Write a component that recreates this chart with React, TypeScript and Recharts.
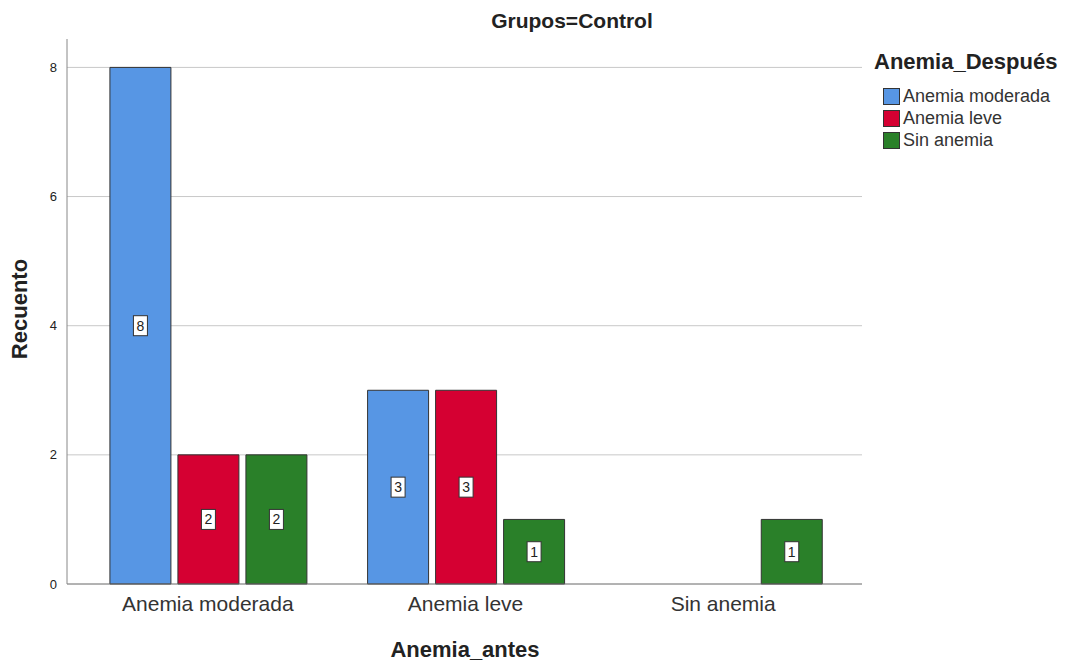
import { BarChart, Bar, XAxis, YAxis, CartesianGrid, LabelList } from 'recharts';

const categories = ['Anemia moderada', 'Anemia leve', 'Sin anemia'];
const moderada = [8, 3, 0];
const leve = [2, 3, 0];
const sinAnemia = [2, 1, 1];
const yTicks = [0, 2, 4, 6, 8];
const gridValues = [2, 4, 6, 8];

const series = [
	{ key: 'moderada', name: 'Anemia moderada', color: '#5796e4' },
	{ key: 'leve', name: 'Anemia leve', color: '#d50032' },
	{ key: 'sin', name: 'Sin anemia', color: '#2a8029' },
];

const data = categories.map((c, i) => ({
	cat: c,
	moderada: moderada[i] || null,
	leve: leve[i] || null,
	sin: sinAnemia[i] || null,
}));

const FONT = '"Liberation Sans", Arial, sans-serif';

const ValueBox = (props: any) => {
	const { x, y, width, height, value } = props;
	if (!value) return null;
	const cx = x + width / 2;
	const cy = y + height / 2;
	return (
		<g>
			<rect x={cx - 7} y={cy - 10} width={14} height={20} fill="#fff" stroke="#333" strokeWidth={1} />
			<text x={cx} y={cy + 5} textAnchor="middle" fontSize={14} fill="#222" fontFamily={FONT}>{value}</text>
		</g>
	);
};

export default function App() {
	return (
		<div style={{ position: 'absolute', left: 0, top: 0, width: 1065, height: 669, background: '#fff', fontFamily: FONT }}>
			<BarChart
				width={1065}
				height={669}
				data={data}
				margin={{ top: 39, right: 203, bottom: 55, left: 37 }}
				barCategoryGap="12%"
				barGap={7}
			>
				<CartesianGrid vertical={false} stroke="#c8c8c8" horizontalValues={gridValues} />
				<XAxis
					dataKey="cat"
					height={30}
					padding={{ left: 12, right: 10 }}
					stroke="#666"
					tickLine={false}
					tick={{ fill: '#333', fontSize: 21, fontFamily: FONT }}
					dy={4}
				/>
				<YAxis
					width={30}
					domain={[0, 8.44]}
					ticks={yTicks}
					stroke="#888"
					tickLine={false}
					tick={{ fill: '#222', fontSize: 13, fontFamily: FONT }}
					dx={-2}
				/>
				{series.map(s => (
					<Bar key={s.key} dataKey={s.key} name={s.name} fill={s.color} stroke="#333" strokeWidth={1} isAnimationActive={false}>
						<LabelList dataKey={s.key} content={ValueBox} />
					</Bar>
				))}
			</BarChart>

			<div style={{ position: 'absolute', left: 472, width: 200, top: 9, textAlign: 'center', fontWeight: 'bold', fontSize: 21, color: '#222' }}>
				Grupos=Control
			</div>
			<div style={{ position: 'absolute', left: 365, width: 200, top: 637, textAlign: 'center', fontWeight: 'bold', fontSize: 22, color: '#222' }}>
				Anemia_antes
			</div>
			<div style={{ position: 'absolute', left: 20 - 70, top: 296, width: 140, textAlign: 'center', transform: 'rotate(-90deg)', fontWeight: 'bold', fontSize: 22, color: '#222' }}>
				Recuento
			</div>

			<div style={{ position: 'absolute', left: 874, top: 49 }}>
				<div style={{ fontWeight: 'bold', fontSize: 22, color: '#222', marginBottom: 10 }}>Anemia_Después</div>
				{series.map(s => (
					<div key={s.key} style={{ display: 'flex', alignItems: 'center', marginLeft: 9, height: 22 }}>
						<span style={{ display: 'inline-block', width: 17, height: 17, background: s.color, border: '1px solid #333', boxSizing: 'border-box', marginRight: 3 }} />
						<span style={{ fontSize: 18, color: '#333' }}>{s.name}</span>
					</div>
				))}
			</div>
		</div>
	);
}
